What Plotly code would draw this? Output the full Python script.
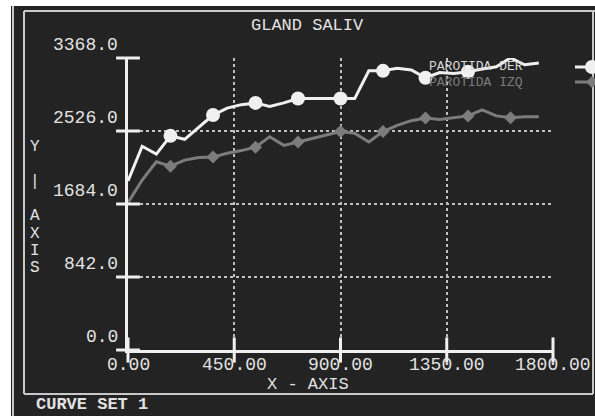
import plotly.graph_objects as go

# ---- data ----
times = [0, 60, 120, 180, 240, 300, 360, 420, 480, 540, 600, 660, 720, 780, 840,
         900, 960, 1020, 1080, 1140, 1200, 1260, 1320, 1380, 1440, 1500, 1560,
         1620, 1680, 1740]
parotida_der = [1950, 2350, 2260, 2470, 2430, 2570, 2710, 2790, 2830, 2850,
                2810, 2850, 2900, 2900, 2900, 2900, 2900, 3220, 3220, 3250,
                3230, 3140, 3200, 3190, 3210, 3240, 3266, 3370, 3290, 3310]
parotida_izq = [1700, 1960, 2170, 2120, 2190, 2220, 2225, 2270, 2300, 2340,
                2460, 2360, 2400, 2440, 2480, 2520, 2500, 2400, 2520, 2590,
                2645, 2676, 2660, 2680, 2700, 2770, 2700, 2680, 2690, 2690]
x_ticks = [0, 450, 900, 1350, 1800]
x_tick_labels = ["0.00", "450.00", "900.00", "1350.00", "1800.00"]
y_ticks = [0, 842, 1684, 2526, 3368]
y_tick_labels = ["0.0", "842.0", "1684.0", "2526.0", "3368.0"]
series_names = ["PAROTIDA DER", "PAROTIDA IZQ"]
title_text = "GLAND SALIV"
footer_text = "CURVE SET 1"
y_axis_letters = ["Y", "|", "A", "X", "I", "S"]

# ---- styles ----
W, H = 595, 416
L, R, T, B = 128, 553, 58, 350
BG = "#232323"
WHITE = "#f0f0f0"
GRAY = "#7c7c7c"
GRID = "#c0c0c0"
TXT = "#e2e2e2"
FRAME = "#c8c8c8"
FONT = "Liberation Mono"


def px(x):
    return (x - L) / (R - L)


def py(y):
    return (B - y) / (B - T)


fig = go.Figure()

# series lines
fig.add_trace(go.Scatter(x=times, y=parotida_izq, mode="lines",
                         line=dict(color=GRAY, width=3), hoverinfo="skip"))
fig.add_trace(go.Scatter(x=times[3::3], y=parotida_izq[3::3], mode="markers",
                         marker=dict(symbol="diamond", size=10, color=GRAY)))
fig.add_trace(go.Scatter(x=times, y=parotida_der, mode="lines",
                         line=dict(color=WHITE, width=3), cliponaxis=False))
fig.add_trace(go.Scatter(x=times[3::3], y=parotida_der[3::3], mode="markers",
                         marker=dict(symbol="circle", size=14, color=WHITE),
                         cliponaxis=False))

# tick marks crossing the axes
fig.add_trace(go.Scatter(x=[0] * len(y_ticks), y=y_ticks, mode="markers",
                         marker=dict(symbol="line-ew", size=17,
                                     line=dict(width=3, color=WHITE)),
                         cliponaxis=False))
fig.add_trace(go.Scatter(x=x_ticks, y=[0] * len(x_ticks), mode="markers",
                         marker=dict(symbol="line-ns", size=18,
                                     line=dict(width=3, color=WHITE)),
                         cliponaxis=False))


def ann(x, y, text, size=18, color=TXT, xanchor="center", yanchor="middle",
        **kw):
    d = dict(x=x, y=y, text=text, showarrow=False, xanchor=xanchor,
             yanchor=yanchor, font=dict(family=FONT, size=size, color=color))
    d.setdefault("xref", "paper")
    d.setdefault("yref", "paper")
    d.update(kw)
    return d


annotations = []
for v, t in zip(y_ticks, y_tick_labels):
    annotations.append(ann(0, v, t, yref="y", xanchor="right",
                           xshift=-8, yshift=13))
for v, t in zip(x_ticks, x_tick_labels):
    annotations.append(ann(v, 0, t, xref="x", yshift=-15))
# title, axis titles, footer
annotations.append(ann(px(307), py(25), title_text, size=17))
annotations.append(ann(px(308), py(384), "X - AXIS", size=17))
for letter, yy in zip(y_axis_letters, [147, 182, 216, 234, 251, 268]):
    annotations.append(ann(px(35), py(yy), letter, size=16))
annotations.append(ann(px(34), py(416), "<b>" + footer_text + "</b>",
                       size=17, xanchor="left", yanchor="bottom"))
# legend text
annotations.append(ann(px(427), py(66), series_names[0], size=13,
                       color="#d8d8d8", xanchor="left"))
annotations.append(ann(px(427), py(82), series_names[1], size=13,
                       color=GRAY, xanchor="left"))

shapes = [
    # white photo margin
    dict(type="rect", xref="paper", yref="paper", x0=px(0), x1=px(11),
         y0=py(416), y1=py(0), fillcolor="white", line=dict(width=0),
         layer="below"),
    dict(type="rect", xref="paper", yref="paper", x0=px(0), x1=px(595),
         y0=py(6), y1=py(0), fillcolor="white", line=dict(width=0),
         layer="below"),
    # frame lines
    dict(type="line", xref="paper", yref="paper", x0=px(13), x1=px(13),
         y0=py(6), y1=py(416), line=dict(color=FRAME, width=2)),
    dict(type="line", xref="paper", yref="paper", x0=px(24), x1=px(24),
         y0=py(11), y1=py(394), line=dict(color=FRAME, width=2)),
    dict(type="line", xref="paper", yref="paper", x0=px(24), x1=px(595),
         y0=py(11), y1=py(11), line=dict(color=FRAME, width=2)),
    dict(type="line", xref="paper", yref="paper", x0=px(24), x1=px(593),
         y0=py(394), y1=py(394), line=dict(color=FRAME, width=2)),
    dict(type="line", xref="paper", yref="paper", x0=px(593), x1=px(593),
         y0=py(11), y1=py(394), line=dict(color=FRAME, width=2)),
    # legend samples
    dict(type="line", xref="paper", yref="paper", x0=px(575), x1=px(596),
         y0=py(67), y1=py(67), line=dict(color=WHITE, width=3)),
    dict(type="circle", xref="paper", yref="paper", x0=px(585), x1=px(599),
         y0=py(74), y1=py(60), fillcolor=WHITE, line=dict(width=0)),
    dict(type="line", xref="paper", yref="paper", x0=px(575), x1=px(596),
         y0=py(82), y1=py(82), line=dict(color=GRAY, width=3)),
    dict(type="path", xref="paper", yref="paper",
         path="M {a},{b} L {c},{d} L {a},{e} L {f},{d} Z".format(
             a=px(592), b=py(76), c=px(598), d=py(82), e=py(88), f=px(586)),
         fillcolor=GRAY, line=dict(width=0)),
]

fig.update_layout(
    width=W, height=H,
    margin=dict(l=L, r=W - R, t=T, b=H - B),
    paper_bgcolor=BG, plot_bgcolor=BG,
    showlegend=False,
    annotations=annotations,
    shapes=shapes,
    xaxis=dict(range=[0, 1800], tickvals=x_ticks, showticklabels=False,
               showgrid=True, gridcolor=GRID, gridwidth=1.5, griddash="dot",
               zeroline=False, showline=True, linecolor=WHITE, linewidth=3,
               ticks="", fixedrange=True),
    yaxis=dict(range=[0, 3368], tickvals=y_ticks, showticklabels=False,
               showgrid=True, gridcolor=GRID, gridwidth=1.5, griddash="dot",
               zeroline=False, showline=True, linecolor=WHITE, linewidth=3,
               ticks="", fixedrange=True),
)

fig.write_html(
    "out.html",
    config={"displayModeBar": False},
    post_script="document.body.style.margin='0';document.body.style.overflow='hidden';",
)
